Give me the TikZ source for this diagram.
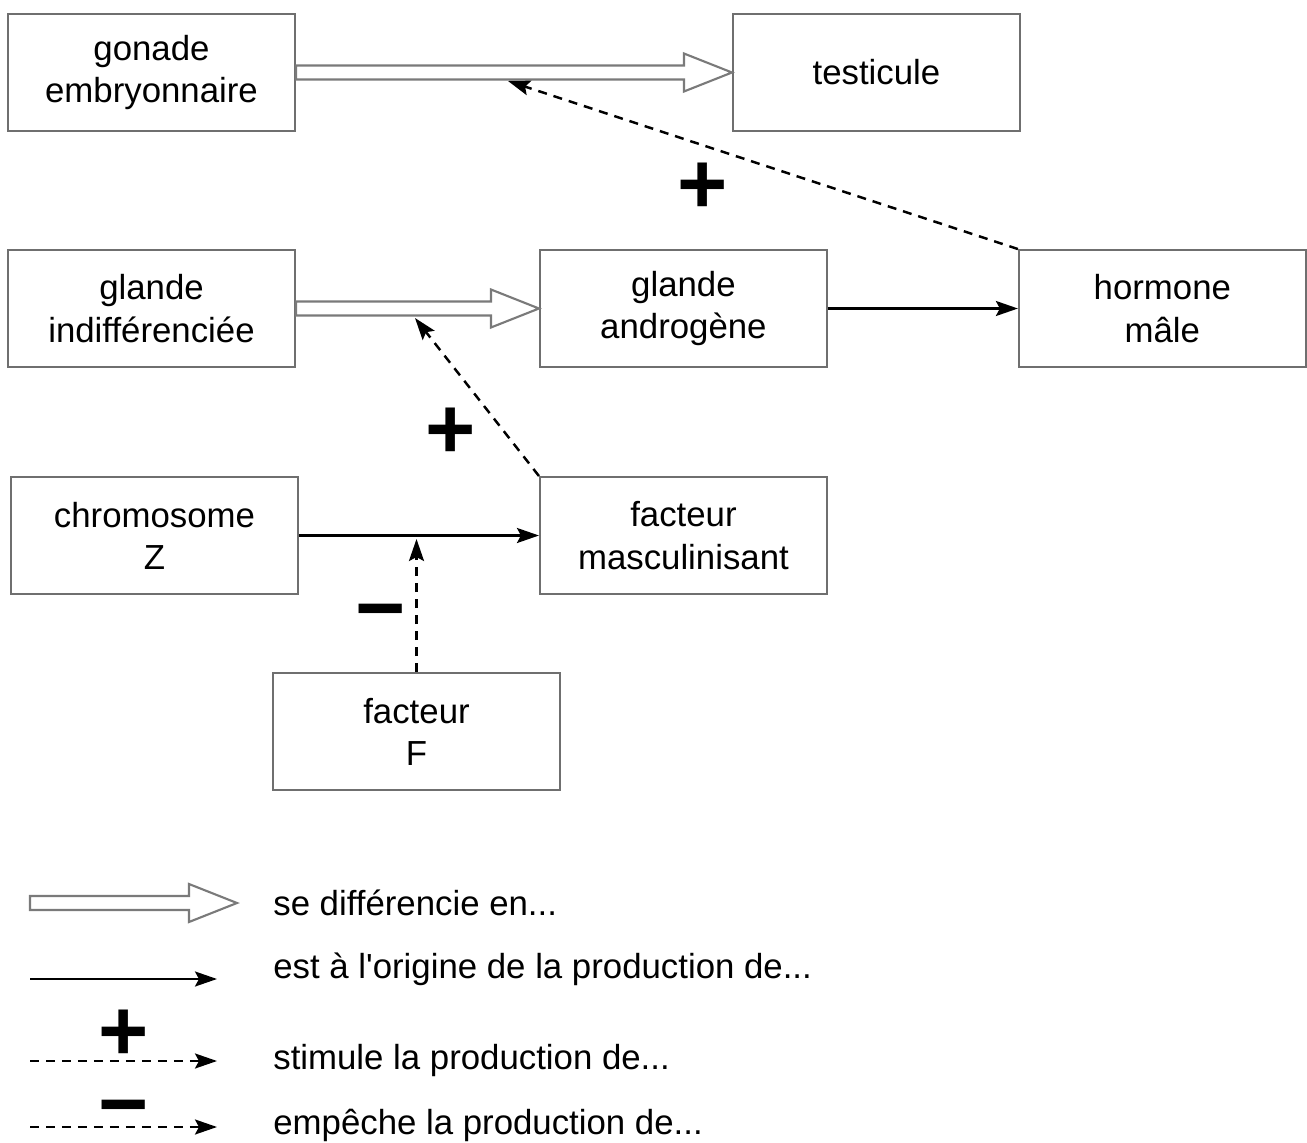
\documentclass[tikz,border=0pt]{standalone}
\usepackage{fontspec}
\setmainfont{Liberation Sans}
\setsansfont{Liberation Sans}
\usetikzlibrary{arrows.meta, positioning, calc}
\definecolor{boxgray}{HTML}{6F6F6F}
\definecolor{hollowgray}{HTML}{7A7A7A}

\begin{document}
\begin{tikzpicture}[
    >=Stealth,
    font=\sffamily\fontsize{19.8}{24}\selectfont,
    % Styles des blocs
    bloc/.style={rectangle, draw=boxgray, line width=1.1pt, minimum width=5.74cm, minimum height=2.34cm, align=center, inner sep=2pt},
    produit/.style={-{Stealth[length=0.44cm, width=0.3cm, inset=0.08cm]}, line width=1.4pt, black},
    effet/.style={produit, dash pattern=on 0.18cm off 0.14cm},
    signe/.style={font=\sffamily\bfseries\fontsize{49}{49}\selectfont, inner sep=0pt},
    legende/.style={anchor=base west, inner sep=0pt},
    devient/.style={draw=hollowgray, fill=white, line width=1.2pt, to path={
        let \p1=(\tikztostart), \p2=(\tikztotarget) in
        (\x1,\y1+0.14cm) -- (\x2-0.96cm,\y1+0.14cm) -- (\x2-0.96cm,\y1+0.38cm) -- (\x2,\y1)
        -- (\x2-0.96cm,\y1-0.38cm) -- (\x2-0.96cm,\y1-0.14cm) -- (\x1,\y1-0.14cm) -- cycle}}
]
\useasboundingbox (0,0) rectangle (26.14,-22.86);

% -------------------------
% LIGNE DU HAUT
% -------------------------
\node[bloc] (gonade) at (3.03,-1.45) {gonade\\embryonnaire};
\node[bloc, right=8.72cm of gonade] (testicule) {testicule};

% -------------------------
% LIGNE DU MILIEU
% -------------------------
\node[bloc] (indiff) at (3.03,-6.17) {glande\\indifférenciée};
\node[bloc, right=4.86cm of indiff] (androgene) {glande\\androgène};
\node[bloc, right=3.8cm of androgene] (hormone) {hormone\\mâle};

% -------------------------
% LIGNE DU BAS
% -------------------------
\node[bloc] (chromZ) at (3.09,-10.71) {chromosome\\Z};
\node[bloc, right=4.8cm of chromZ] (masc) {facteur\\masculinisant};
\node[bloc] (facteurF) at (8.33,-14.63) {facteur\\F};

% Differenciation et production
\draw[devient] (gonade.east) to (testicule.west);
\draw[devient] (indiff.east) to (androgene.west);
\draw[produit] (androgene) -- (hormone);
\draw[produit] (chromZ) -- (masc);

% Effets (stimule / empeche)
\coordinate (cible1) at (10.16,-1.62);
\coordinate (cible2) at (8.3,-6.36);
\coordinate (cible3) at (8.33,-10.78);
\draw[effet] (hormone.north west) -- (cible1);
\draw[effet] (masc.north west) -- (cible2);
\draw[effet] (facteurF.north) -- (cible3);

\node[signe] (plus1) at (14.06,-3.76) {+};
\node[signe] (plus2) at (9.02,-8.66) {+};
\node[signe] (moins1) at (7.61,-12.42) {−};

% -------------------------
% LEGENDE
% -------------------------
\coordinate (l1a) at (0.6,-18.06);
\coordinate (l1b) at (4.74,-18.06);
\draw[devient] (l1a) to (l1b);
\node[legende] (t1) at (5.46,-18.3) {se différencie en...};

\coordinate (l2a) at (0.6,-19.58);
\coordinate (l2b) at (4.34,-19.58);
\draw[produit] (l2a) -- (l2b);
\node[legende] (t2) at (5.46,-19.56) {est à l\textquotesingle origine de la production de...};

\node[signe] (plus3) at (2.48,-20.7) {+};
\coordinate (l3a) at (0.6,-21.22);
\coordinate (l3b) at (4.34,-21.22);
\draw[effet] (l3a) -- (l3b);
\node[legende] (t3) at (5.46,-21.38) {stimule la production de...};

\node[signe] (moins2) at (2.48,-22.33) {−};
\coordinate (l4a) at (0.6,-22.54);
\coordinate (l4b) at (4.34,-22.54);
\draw[effet] (l4a) -- (l4b);
\node[legende] (t4) at (5.46,-22.68) {empêche la production de...};

\end{tikzpicture}
\end{document}
